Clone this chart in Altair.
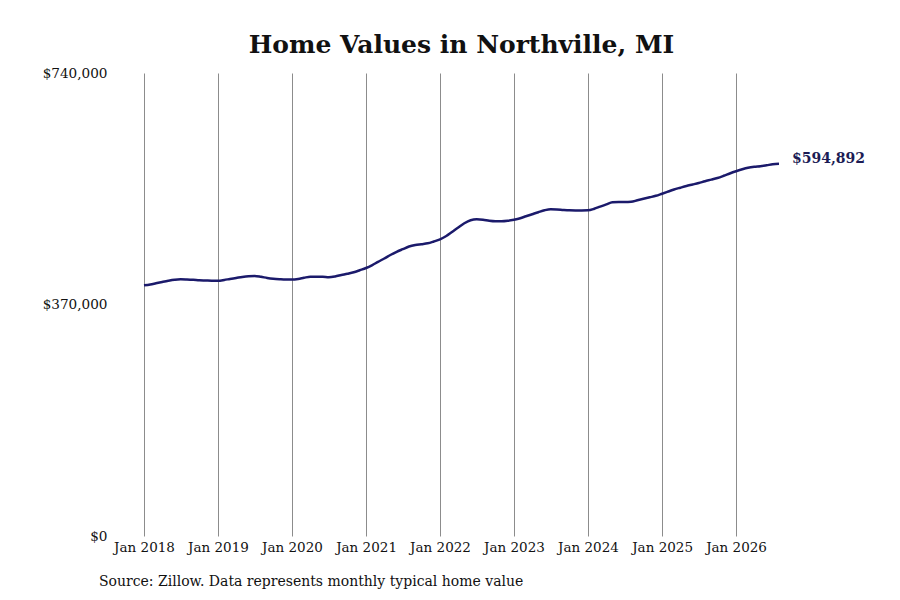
import altair as alt
import pandas as pd

# monthly typical home value, Jan 2018 .. Aug 2026
months = pd.date_range('2018-01-01', periods=104, freq='MS').strftime('%Y-%m-%dT00:00:00')
values = [
    400700, 402000, 403900, 406000, 407900, 409500, 410300, 410000, 409500, 408800, 408400, 408000,
    408000, 409200, 410800, 412400, 414000, 415200, 415600, 414300, 412400, 411100, 410300, 409800,
    409800, 410800, 412700, 414400, 414400, 414300, 413600, 414800, 417100, 419200, 421600, 424800,
    428300, 433100, 438200, 443500, 449100, 454200, 458400, 462700, 465100, 466400, 467800, 470700,
    474200, 479500, 485900, 493100, 499800, 504700, 506200, 505500, 503800, 503000, 503000, 503800,
    505500, 507900, 511000, 514300, 517500, 520600, 522200, 522000, 521200, 520600, 520400, 520400,
    520600, 523000, 526500, 530100, 533300, 533700, 533700, 534100, 536500, 538900, 541300, 543700,
    547100, 550600, 553800, 556700, 559400, 561800, 564200, 567100, 569600, 572200, 575700, 579400,
    582900, 586100, 588500, 590100, 591000, 592500, 594100, 594892,
]
y_ticks = [0, 370000, 740000]
x_years = list(range(2018, 2027))

df = pd.DataFrame({'date': months, 'value': values})
last = df.tail(1)

FONT = 'DejaVu Serif'
NAVY = '#1b1a6b'

x_enc = alt.X('date:T',
              scale=alt.Scale(domain=[alt.DateTime(year=2017, month=8, date=1),
                                      alt.DateTime(year=2027, month=1, date=1)]),
              axis=alt.Axis(values=[alt.DateTime(year=y, month=1, date=1) for y in x_years],
                            format='%b %Y', title=None, grid=True, gridColor='#8c8c8c',
                            gridWidth=1, domain=False, ticks=False, labelPadding=4,
                            labelFont=FONT, labelFontSize=13.5, labelColor='#111'))
y_enc = alt.Y('value:Q',
              scale=alt.Scale(domain=[0, 740000], nice=False),
              axis=alt.Axis(values=y_ticks, format='$,.0f', title=None, grid=False,
                            domain=False, ticks=False, labelPadding=6,
                            labelFont=FONT, labelFontSize=13.6, labelColor='#111'))

line = alt.Chart(df).mark_line(color=NAVY, strokeWidth=2.5, interpolate='monotone').encode(
    x=x_enc, y=y_enc)

end_label = alt.Chart(last).mark_text(
    align='left', dx=13, dy=-5, font=FONT, fontSize=14, fontWeight='bold', color='#1c1c55'
).encode(x='date:T', y='value:Q', text=alt.Text('value:Q', format='$,.0f'))

source = alt.Chart(last).mark_text(
    align='left', baseline='middle', font=FONT, fontSize=14, color='#111'
).encode(x=alt.value(-14), y=alt.value(509),
         text=alt.value('Source: Zillow. Data represents monthly typical home value'))

chart = (line + end_label + source).properties(
    width=697, height=463,
    title=alt.Title('Home Values in Northville, MI', font=FONT, fontSize=25,
                    fontWeight='bold', color='#111', anchor='middle', offset=8),
    background='white',
    padding={'left': 34, 'top': 25, 'right': 5, 'bottom': 5},
).configure_view(stroke=None)

chart.save('out.html', embed_options={'renderer': 'svg', 'actions': False})
